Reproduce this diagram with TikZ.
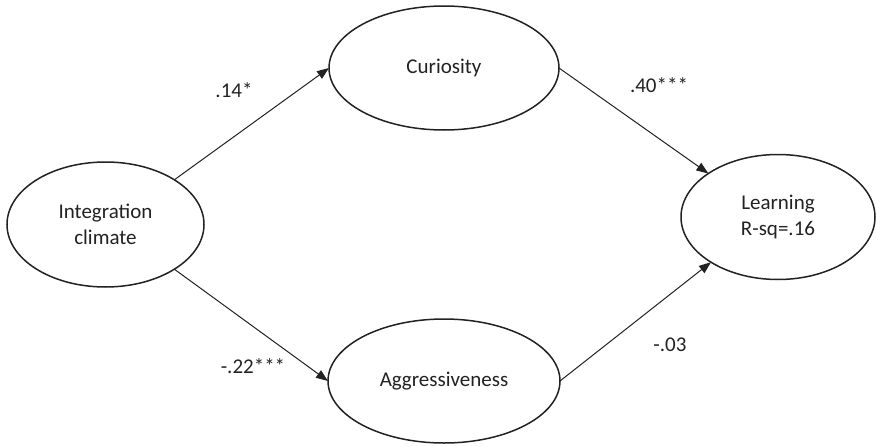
\documentclass[tikz,border=0pt]{standalone}
\usepackage{fontspec}
\setmainfont{Carlito}
\usetikzlibrary{shapes.geometric,arrows.meta}
\definecolor{ink}{HTML}{222222}
\tikzset{
  construct/.style={ellipse, draw=ink, line width=1.5pt, fill=white,
    inner sep=0pt, outer sep=0pt, text=ink, align=center,
    font=\fontsize{21}{26}\selectfont},
  path/.style={draw=ink, line width=1pt, -{Triangle[length=12pt,width=9pt]}},
  coef/.style={text=ink, font=\fontsize{21}{26}\selectfont, inner sep=0pt}
}
\begin{document}
\begin{tikzpicture}[x=1pt,y=-1pt]
  \useasboundingbox (0,0) rectangle (876,447);
  \fill[white] (0,0) rectangle (876,447);

  % latent constructs
  \node[construct, minimum width=197pt, minimum height=125pt] (ic) at (105.5,224.5) {Integration\\climate};
  \node[construct, minimum width=230pt, minimum height=124pt] (cu) at (444,68) {Curiosity};
  \node[construct, minimum width=232pt, minimum height=124pt] (ag) at (444,381) {Aggressiveness};
  \node[construct, minimum width=194pt, minimum height=125pt] (le) at (778,217) {Learning\\R-sq=.16};

  % structural paths
  \draw[path] (ic.33) -- (cu.west);
  \draw[path] (ic.-33) -- (ag.west);
  \draw[path] (cu.east) -- (le.148);
  \draw[path] (ag.east) -- (le.214);

  % path coefficients
  \node[coef] (c1) at (234,90) {.14*};
  \node[coef] (c2) at (659,85) {.40***};
  \node[coef] (c3) at (253,366) {-.22***};
  \node[coef] (c4) at (670,345) {-.03};
\end{tikzpicture}
\end{document}
